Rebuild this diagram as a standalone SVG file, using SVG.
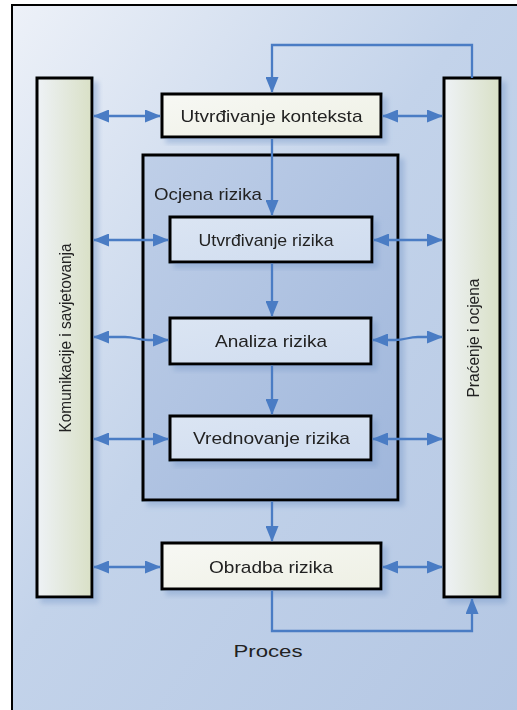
<svg xmlns="http://www.w3.org/2000/svg" width="517" height="710" viewBox="0 0 517 710">
  <defs>
    <linearGradient id="bg" x1="0" y1="0" x2="1" y2="1">
      <stop offset="0" stop-color="#edf1f8"/>
      <stop offset="0.45" stop-color="#c3d3ea"/>
      <stop offset="1" stop-color="#b3c6e3"/>
    </linearGradient>
    <linearGradient id="col" x1="0" y1="0" x2="1" y2="0">
      <stop offset="0" stop-color="#eef2f6"/>
      <stop offset="1" stop-color="#d9e0c6"/>
    </linearGradient>
    <linearGradient id="ocj" x1="0" y1="0" x2="1" y2="1">
      <stop offset="0" stop-color="#bfcfe8"/>
      <stop offset="1" stop-color="#9fb6db"/>
    </linearGradient>
    <linearGradient id="inner" x1="0" y1="0" x2="1" y2="1">
      <stop offset="0" stop-color="#dbe5f3"/>
      <stop offset="1" stop-color="#cfdcef"/>
    </linearGradient>
    <linearGradient id="light" x1="0" y1="0" x2="1" y2="1">
      <stop offset="0" stop-color="#f7f8f4"/>
      <stop offset="1" stop-color="#eef0e4"/>
    </linearGradient>
    <filter id="sh" x="-20%" y="-20%" width="140%" height="140%">
      <feDropShadow dx="5" dy="5" stdDeviation="2.5" flood-color="#7d9bca" flood-opacity="0.45"/>
    </filter>
    <marker id="ah" markerUnits="userSpaceOnUse" markerWidth="16" markerHeight="13" viewBox="0 0 16 13" refX="15" refY="6.5" orient="auto-start-reverse">
      <path d="M0,0 L16,6.5 L0,13 z" fill="#4a7cc4"/>
    </marker>
    <style>
      .box { stroke: #000; stroke-width: 3; }
      .lbl { font-family: "Liberation Sans", Arial, sans-serif; font-size: 17px; fill: #222; text-anchor: middle; }
      .conn { fill: none; stroke: #4a7cc4; stroke-width: 2.3; }
    </style>
  </defs>

  <rect x="0" y="0" width="517" height="710" fill="#ffffff"/>
  <rect id="frame" x="12" y="5" width="520" height="720" fill="url(#bg)" stroke="#000" stroke-width="2"/>

  <g id="col-left" filter="url(#sh)">
    <rect class="box" x="37" y="78" width="55" height="519" fill="url(#col)"/>
    <text class="lbl" transform="translate(70.5,338) rotate(-90)" font-size="16" textLength="189" lengthAdjust="spacingAndGlyphs">Komunikacije i savjetovanja</text>
  </g>
  <g id="col-right" filter="url(#sh)">
    <rect class="box" x="444" y="78" width="56" height="519" fill="url(#col)"/>
    <text class="lbl" transform="translate(478.5,338) rotate(-90)" font-size="16" textLength="119" lengthAdjust="spacingAndGlyphs">Praćenje i ocjena</text>
  </g>

  <g id="ocjena" filter="url(#sh)">
    <rect class="box" x="143" y="155" width="255" height="345" fill="url(#ocj)"/>
    <text class="lbl" x="208" y="199.5" textLength="108" lengthAdjust="spacingAndGlyphs">Ocjena rizika</text>
  </g>

  <g id="kontekst" filter="url(#sh)">
    <rect class="box" x="162" y="94" width="219" height="43" fill="url(#light)"/>
    <text class="lbl" x="271.5" y="121.5" textLength="182" lengthAdjust="spacingAndGlyphs">Utvrđivanje konteksta</text>
  </g>
  <g id="utvrdjivanje" filter="url(#sh)">
    <rect class="box" x="170" y="217" width="202" height="45" fill="url(#inner)"/>
    <text class="lbl" x="266" y="245.5" textLength="135" lengthAdjust="spacingAndGlyphs">Utvrđivanje rizika</text>
  </g>
  <g id="analiza" filter="url(#sh)">
    <rect class="box" x="170" y="318" width="201" height="46" fill="url(#inner)"/>
    <text class="lbl" x="271" y="347" textLength="112" lengthAdjust="spacingAndGlyphs">Analiza rizika</text>
  </g>
  <g id="vrednovanje" filter="url(#sh)">
    <rect class="box" x="170" y="416" width="201" height="44" fill="url(#inner)"/>
    <text class="lbl" x="271.5" y="444" textLength="157" lengthAdjust="spacingAndGlyphs">Vrednovanje rizika</text>
  </g>
  <g id="obradba" filter="url(#sh)">
    <rect class="box" x="162" y="543" width="219" height="46" fill="url(#light)"/>
    <text class="lbl" x="271" y="572.5" textLength="124" lengthAdjust="spacingAndGlyphs">Obradba rizika</text>
  </g>

  <g id="connectors">
    <path class="conn" d="M472,78 V45 H272 V92" marker-end="url(#ah)"/>
    <path class="conn" d="M272,139 V215" marker-end="url(#ah)"/>
    <path class="conn" d="M272,263.5 V316" marker-end="url(#ah)"/>
    <path class="conn" d="M272,365.5 V414" marker-end="url(#ah)"/>
    <path class="conn" d="M272,501.5 V541" marker-end="url(#ah)"/>
    <path class="conn" d="M272,590.5 V631 H472 V599" marker-end="url(#ah)"/>

    <path class="conn" d="M94,116 H160" marker-start="url(#ah)" marker-end="url(#ah)"/>
    <path class="conn" d="M383,116 H442" marker-start="url(#ah)" marker-end="url(#ah)"/>
    <path class="conn" d="M94,240 H168" marker-start="url(#ah)" marker-end="url(#ah)"/>
    <path class="conn" d="M374,240 H442" marker-start="url(#ah)" marker-end="url(#ah)"/>
    <path class="conn" d="M94,337 H125 C135,337 138,340 148,340 H168" marker-start="url(#ah)" marker-end="url(#ah)"/>
    <path class="conn" d="M373,340 H395 C405,340 408,337 418,337 H442" marker-start="url(#ah)" marker-end="url(#ah)"/>
    <path class="conn" d="M94,439 H168" marker-start="url(#ah)" marker-end="url(#ah)"/>
    <path class="conn" d="M373,439 H442" marker-start="url(#ah)" marker-end="url(#ah)"/>
    <path class="conn" d="M94,567 H160" marker-start="url(#ah)" marker-end="url(#ah)"/>
    <path class="conn" d="M383,567 H442" marker-start="url(#ah)" marker-end="url(#ah)"/>
  </g>

  <text id="proces" class="lbl" x="268" y="657" font-size="19" textLength="69" lengthAdjust="spacingAndGlyphs">Proces</text>
</svg>
